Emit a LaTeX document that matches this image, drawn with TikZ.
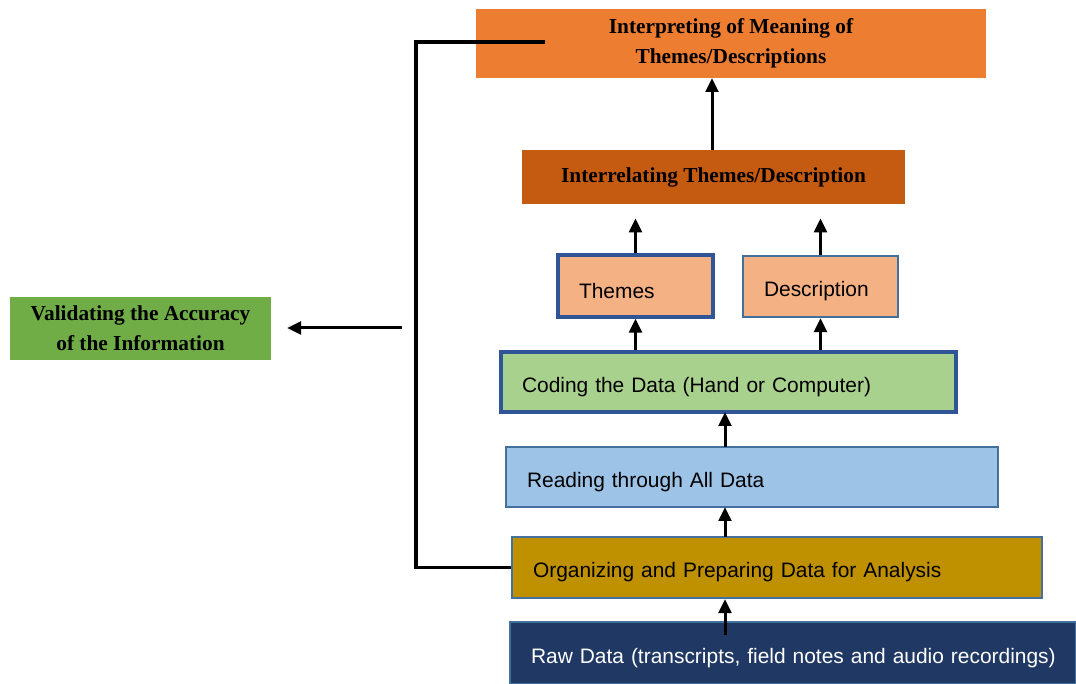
\documentclass[tikz,border=0pt]{standalone}
\usepackage{fontspec}
\setmainfont{Liberation Serif}
\setsansfont{Liberation Sans}
\usetikzlibrary{arrows.meta}
\definecolor{cInterp}{HTML}{ED7D31}
\definecolor{cInterrel}{HTML}{C55A11}
\definecolor{cTheme}{HTML}{F4B183}
\definecolor{cCoding}{HTML}{A9D18E}
\definecolor{cReading}{HTML}{9DC3E6}
\definecolor{cOrg}{HTML}{BF9000}
\definecolor{cRaw}{HTML}{203864}
\definecolor{cValid}{HTML}{70AD47}
\definecolor{bDark}{HTML}{2F5597}
\definecolor{bMid}{HTML}{41719C}
\newcommand\dn[1]{\raisebox{-3.5pt}[\height][\depth]{#1}}
\tikzset{
  boldbox/.style={fill=#1, draw=none, font=\rmfamily\bfseries\fontsize{16pt}{22.5pt}\selectfont, align=center, inner sep=0pt},
  sansbox/.style={fill=#1, font=\sffamily\fontsize{15.7pt}{19pt}\selectfont, align=left, inner xsep=15.75pt, inner ysep=0pt},
  thickborder/.style={draw=bDark, line width=2.4pt},
  thinborder/.style={draw=bMid, line width=1.6pt},
  arr/.style={line width=2.25pt, -{Triangle[length=10.5pt,width=9.5pt]}},
  fb/.style={line width=2.4pt}
}
\begin{document}
\begin{tikzpicture}[x=0.75pt,y=-0.75pt]
\useasboundingbox (0,0) rectangle (1076,684);
% boxes
\node[boldbox=cInterp, minimum width=510*0.75pt, minimum height=69*0.75pt] (interp) at (731,43.5) {Interpreting of Meaning of\\Themes/Descriptions};
\node[boldbox=cInterrel, minimum width=383*0.75pt, minimum height=54*0.75pt] (interrel) at (713.5,177) {Interrelating Themes/Description};
\node[sansbox=cTheme, thickborder, text width=113*0.75pt, minimum height=62*0.75pt] (themes) at (635.5,286) {\dn{Themes}};
\node[sansbox=cTheme, thinborder, text width=113*0.75pt, minimum height=61*0.75pt] (desc) at (820.5,286.5) {\dn{Description}};
\node[sansbox=cCoding, thickborder, text width=413*0.75pt, minimum height=60*0.75pt] (coding) at (728.5,382) {\dn{Coding the Data (Hand or Computer)}};
\node[sansbox=cReading, thinborder, text width=450*0.75pt, minimum height=60*0.75pt] (reading) at (752,477) {\dn{Reading through All Data}};
\node[sansbox=cOrg, thinborder, text width=488*0.75pt, minimum height=61*0.75pt] (org) at (777,567.5) {\dn{Organizing and Preparing Data for Analysis}};
\node[sansbox=cRaw, thinborder, text=white, text width=524*0.75pt, minimum height=62*0.75pt] (raw) at (793,653) {\dn{\mbox{Raw Data (transcripts, field notes and audio recordings)}}};
\node[boldbox=cValid, minimum width=261*0.75pt, minimum height=63*0.75pt] (valid) at (140.5,328.5) {Validating the Accuracy\\of the Information};
% helper coordinates
\coordinate (rawstart) at (725,635);
\coordinate (fbcorner) at (416,42);
\coordinate (fbend) at (545,42);
\coordinate (vstart) at (402,328);
\coordinate (vend) at (287,328);
% arrows
\draw[arr] (rawstart) -- (rawstart |- org.south);
\draw[arr] (725,537) -- (725,507);
\draw[arr] (725,447) -- (725,412);
\draw[arr] (coding.north -| themes.south) -- (themes.south);
\draw[arr] (coding.north -| desc.south) -- (desc.south);
\draw[arr] (themes.north) -- ([yshift=-14*0.75pt]interrel.south -| themes.north);
\draw[arr] (desc.north) -- ([yshift=-14*0.75pt]interrel.south -| desc.north);
\draw[arr] (712,150) -- (712,78);
% feedback loop
\draw[fb] (org.west) -| (fbcorner) -- (fbend);
\draw[arr] (vstart) -- (vend);
\end{tikzpicture}
\end{document}
